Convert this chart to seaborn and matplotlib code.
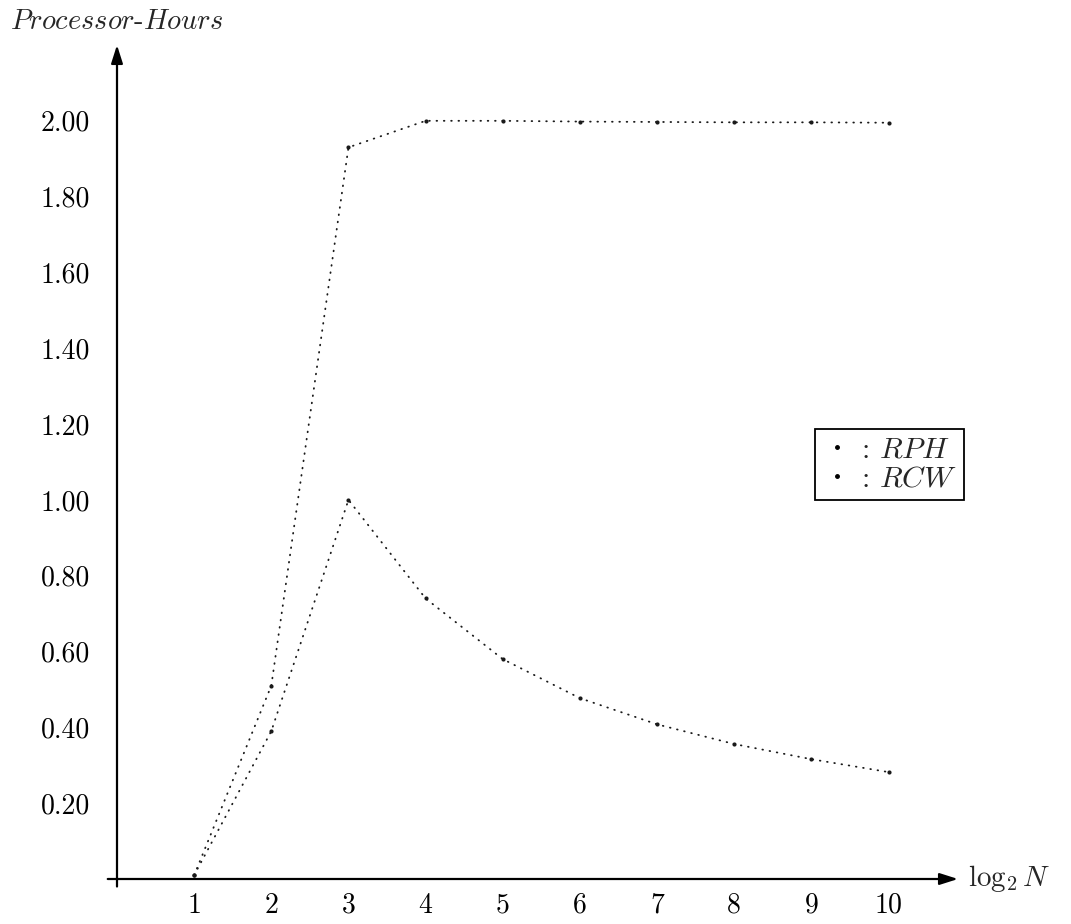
import matplotlib
matplotlib.use("Agg")
import matplotlib.pyplot as plt
import seaborn as sns
import pandas as pd
from matplotlib.lines import Line2D

# values
log2_n = [1, 2, 3, 4, 5, 6, 7, 8, 9, 10]
rph = [0.01, 0.51, 1.93, 2.00, 2.00, 1.998, 1.997, 1.996, 1.996, 1.995]
rcw = [0.01, 0.39, 1.00, 0.74, 0.58, 0.477, 0.408, 0.356, 0.316, 0.282]
x_ticks = [0, 1, 2, 3, 4, 5, 6, 7, 8, 9, 10]
y_ticks = [0.0, 0.2, 0.4, 0.6, 0.8, 1.0, 1.2, 1.4, 1.6, 1.8, 2.0]

df = pd.DataFrame({"log2N": log2_n, "RPH": rph, "RCW": rcw})

sns.set_style("white")
plt.rcParams["font.family"] = ["cmr10", "DejaVu Serif"]
plt.rcParams["mathtext.fontset"] = "cm"
plt.rcParams["axes.formatter.use_mathtext"] = True

fig = plt.figure(figsize=(10.71, 9.24), dpi=100)
ax = fig.add_axes([117 / 1071, 45 / 924, 841 / 1071, 834 / 924])

dot_style = dict(color="#1a1a1a", linewidth=1.3, linestyle=(0, (0.35, 3.7)),
                 dash_capstyle="round", marker="o", markersize=3.0,
                 markeredgewidth=0)
sns.lineplot(data=df, x="log2N", y="RPH", ax=ax, **dot_style)
sns.lineplot(data=df, x="log2N", y="RCW", ax=ax, **dot_style)

ax.set_xlim(0, 10.9)
ax.set_ylim(0, 2.2)
ax.set_xlabel("")
ax.set_ylabel("")

for s in ax.spines.values():
    s.set_visible(False)

# axes drawn as arrows
arrow = dict(arrowstyle="-|>,head_length=1.1,head_width=0.35", color="black",
             lw=1.6, shrinkA=0, shrinkB=0)
ax.annotate("", xy=(1, 0), xytext=(-0.011, 0), xycoords="axes fraction",
            textcoords="axes fraction", arrowprops=arrow, annotation_clip=False)
ax.annotate("", xy=(0, 1), xytext=(0, -0.009), xycoords="axes fraction",
            textcoords="axes fraction", arrowprops=arrow, annotation_clip=False)

ax.set_xticks(x_ticks)
ax.set_xticklabels(["" if t == 0 else str(t) for t in x_ticks])
ax.set_yticks(y_ticks)
ax.set_yticklabels(["" if t == 0 else f"{t:.2f}" for t in y_ticks])
ax.tick_params(axis="both", direction="inout", length=11, width=1.1,
               colors="black", labelsize=20)
ax.tick_params(axis="x", pad=4)
ax.tick_params(axis="y", pad=14)
ax.grid(False)

ax.text(1.012, 0, r"$\log_2 N$", transform=ax.transAxes, ha="left",
        va="center", fontsize=21)
fig.text(10 / 1071, 1 - 22 / 924, r"$Processor$-$Hours$", ha="left",
         va="center", fontsize=20.5)

handles = [Line2D([], [], marker=".", linestyle="none", color="black",
                  markersize=5) for _ in range(2)]
leg = ax.legend(handles, [r": $RPH$", r": $RCW$"], loc="upper left",
                bbox_to_anchor=(0.830, 0.54), borderaxespad=0, fontsize=21.5,
                handlelength=1.0, handletextpad=0.3, borderpad=0.25,
                labelspacing=0.05, fancybox=False, framealpha=1,
                edgecolor="black")
leg.get_frame().set_linewidth(1.3)

fig.savefig("out.png", dpi=100, facecolor="white")
